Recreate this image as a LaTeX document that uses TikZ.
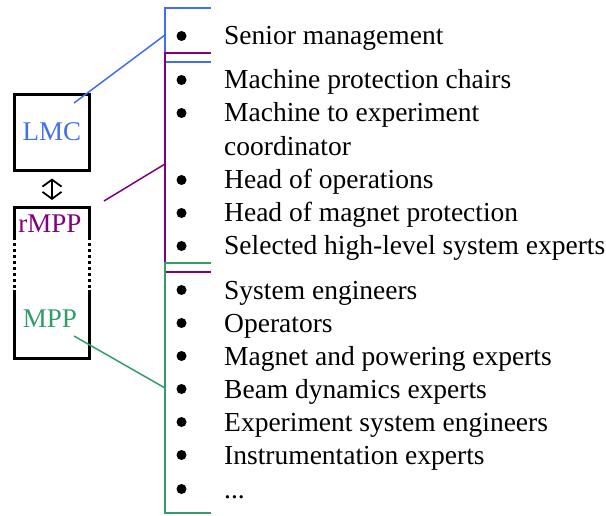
\documentclass[tikz,border=0pt]{standalone}
\usepackage{fontspec}
\setmainfont{Liberation Serif}
\usetikzlibrary{arrows.meta}
\definecolor{lmcblue}{RGB}{66,110,240}
\definecolor{rmpppurple}{RGB}{128,0,128}
\definecolor{mppgreen}{RGB}{52,156,104}
\begin{document}
\begin{tikzpicture}[x=1pt,y=-1pt,
  item/.style={anchor=base west, inner sep=0pt, font=\fontsize{27.5}{33}\selectfont},
  boxlabel/.style={anchor=base, inner sep=0pt, font=\fontsize{27}{32}\selectfont},
  frame/.style={line width=3pt},
  bracket/.style={line width=1.6pt},
  link/.style={line width=1.5pt},
  dot/.style={circle, fill, inner sep=0pt, minimum size=10pt}
]
\useasboundingbox (0,0) rectangle (606,516);

% committee boxes
\node[draw, frame, minimum width=75pt, minimum height=76pt, inner sep=0pt] (lmcbox) at (51.5,133) {};
\node[boxlabel, text=lmcblue] (lmc) at (52,141) {LMC};

\draw[frame] (14,237) -- (14,208) -- (89,208) -- (89,237);
\draw[frame] (14,290) -- (14,358) -- (89,358) -- (89,290);
\draw[frame, dash pattern=on 3.5pt off 2.5pt] (14,237) -- (14,290);
\draw[frame, dash pattern=on 3.5pt off 2.5pt] (89,237) -- (89,290);
\node[boxlabel, text=rmpppurple] (rmpp) at (50,233) {rMPP};
\node[boxlabel, text=mppgreen] (mpp) at (50,327) {MPP};

% exchange between the two bodies
\coordinate (xa) at (52,178.5);
\coordinate (xb) at (52,200);
\draw[line width=1.8pt, {Straight Barb[length=7pt,width=19pt]}-{Straight Barb[length=7pt,width=19pt]}] (xa) -- (xb);

% membership brackets
\coordinate (bt) at (165,8);   \coordinate (bb) at (165,62);
\coordinate (pt) at (165,53);  \coordinate (pb) at (165,272);
\coordinate (gt) at (165,263); \coordinate (gb) at (165,513);
\draw[bracket, lmcblue] (211,8) -- (bt) -- (bb) -- (211,62);
\draw[bracket, rmpppurple] (211,53) -- (pt) -- (pb) -- (211,272);
\draw[bracket, mppgreen] (211,263) -- (gt) -- (gb) -- (211,513);

% links from the bodies to their brackets
\coordinate (lmcfoot) at (74,103);  \coordinate (lmchook) at (165,35);
\coordinate (rmppfoot) at (104,201); \coordinate (rmpphook) at (165,164);
\coordinate (mppfoot) at (74,336);  \coordinate (mpphook) at (165,388);
\draw[link, lmcblue] (lmcfoot) -- (lmchook);
\draw[link, rmpppurple] (rmppfoot) -- (rmpphook);
\draw[link, mppgreen] (mppfoot) -- (mpphook);

% member lists
\foreach \y/\t/\b in {
  45/Senior management/1,
  89/Machine protection chairs/1,
  122/Machine to experiment/1,
  156/coordinator/0,
  189/Head of operations/1,
  222/Head of magnet protection/1,
  255/Selected high-level system experts/1,
  299/System engineers/1,
  332/Operators/1,
  365/Magnet and powering experts/1,
  398/Beam dynamics experts/1,
  431/Experiment system engineers/1,
  464/Instrumentation experts/1,
  498/{...}/1} {
  \node[item] (t\y) at (224,\y) {\t};
  \ifnum\b=1 \node[dot] (d\y) at (181.5,\y-9) {}; \fi
}
\end{tikzpicture}
\end{document}
